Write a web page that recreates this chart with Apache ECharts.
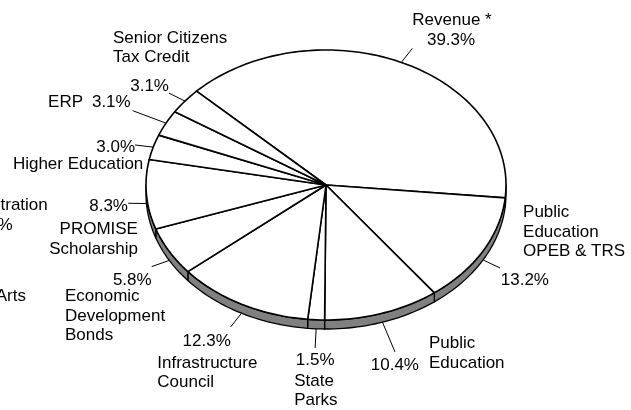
<!DOCTYPE html>
<html><head><meta charset="utf-8">
<script src="https://cdn.jsdelivr.net/npm/echarts@6/dist/echarts.min.js"></script>
<style>html,body{margin:0;padding:0;background:#fff}#c{width:631px;height:410px}</style>
</head><body><div id="c"></div>
<script>
// ---- data ----
const categories = ['Revenue *', 'Public\nEducation\nOPEB & TRS', 'Public\nEducation', 'State\nParks',
  'Infrastructure\nCouncil', 'Economic\nDevelopment\nBonds', 'PROMISE\nScholarship',
  'Higher Education', 'ERP', 'Senior Citizens\nTax Credit'];
const shares = [39.3, 13.2, 10.4, 1.5, 12.3, 5.8, 8.3, 3.0, 3.1, 3.1];
const valueLabels = shares.map(v => v.toFixed(1) + '%');
// fragments of neighbouring labels cut off at the left edge of the picture
const clippedTexts = ['tration', '%', 'Arts'];

// ---- layout (not data) ----
const CX = 326, CY = 185, RX = 180, RY = 135, DEPTH = 9, START = -136;
const FONT = '17px "Liberation Sans", Arial, sans-serif';
// offsets relative to each slice's computed anchor point: leader end, value label, name label
const labelLayout = [
  {lead: [11, -14],      val: [49.7, -22.4, 'center'], name: [50.7, -41.7, 'center']},
  {lead: [17, 8],        val: [17.7, 20.7, 'left'],    name: [40, -27.8, 'left']},
  {lead: [12.5, 29.7],   val: [36.5, 43, 'right'],     name: [46.5, 31.3, 'left']},
  {lead: [-1, 19.2],     val: [-1, 31.2, 'center'],    name: [-22, 62, 'left']},
  {lead: [-10.9, 13.7],  val: [-34.9, 27.7, 'center'], name: [-84.3, 59.5, 'left']},
  {lead: [-17.6, 6.3],   val: [-17.6, 20.3, 'right'],  name: [-104.3, 55.5, 'left']},
  {lead: [-18.2, -0.3],  val: [-18.5, 2.9, 'right'],   name: [-8.5, 35.7, 'right']},
  {lead: [-18.2, -2.2],  val: [-18.2, 0.1, 'right'],   name: [-9.9, 16.8, 'right']},
  {lead: [-33.3, -12.5], val: [-35.3, -20.5, 'right'], name: [-83, -20.5, 'right']},
  {lead: [-16, -8],      val: [-16, -15, 'right'],     name: [-72, -53.5, 'left']}
];

const total = shares.reduce((a, b) => a + b, 0);
const bounds = [];
{ let a = START; for (const v of shares) { const b = a + v / total * 360; bounds.push([a, b]); a = b; } }
const rad = d => d * Math.PI / 180;
const pt = (d, dy) => [CX + RX * Math.cos(rad(d)), CY + RY * Math.sin(rad(d)) + (dy || 0)];
function arc(a0, a1, dy) {
  const n = Math.max(2, Math.ceil(Math.abs(a1 - a0) / 1.5));
  const out = [];
  for (let i = 0; i <= n; i++) out.push(pt(a0 + (a1 - a0) * i / n, dy));
  return out;
}

function renderItem(params, api) {
  const i = params.dataIndex;
  const [a0, a1] = bounds[i];
  const children = [];
  // visible side wall (front half: 0..180 deg)
  const s = Math.max(a0, 0), e = Math.min(a1, 180);
  if (e > s) {
    const pts = arc(s, e, 0).concat(arc(e, s, DEPTH));
    children.push({type: 'polygon', shape: {points: pts},
      style: {fill: '#808080', stroke: '#000', lineWidth: 1.3, lineJoin: 'round'}});
  }
  // top face
  children.push({type: 'polygon', shape: {points: [[CX, CY]].concat(arc(a0, a1, 0))},
    style: {fill: '#fff', stroke: '#000', lineWidth: 1.6, lineJoin: 'round'}});
  // label anchor on the rim
  const mid = (a0 + a1) / 2;
  const sn = Math.sin(rad(mid));
  const anc = pt(mid, sn > 0 ? DEPTH : 0);
  const L = labelLayout[i];
  children.push({type: 'polyline', shape: {points: [anc, [anc[0] + L.lead[0], anc[1] + L.lead[1]]]},
    style: {stroke: '#000', lineWidth: 1, fill: null}});
  children.push({type: 'text', style: {text: valueLabels[i], x: anc[0] + L.val[0], y: anc[1] + L.val[1],
    align: L.val[2], verticalAlign: 'middle', font: FONT, fill: '#000'}});
  children.push({type: 'text', style: {text: categories[i], x: anc[0] + L.name[0], y: anc[1] + L.name[1],
    align: L.name[2], verticalAlign: 'middle', font: FONT, lineHeight: 19.5, fill: '#000'}});
  return {type: 'group', children};
}

const chart = echarts.init(document.getElementById('c'), null, {renderer: 'canvas'});
chart.setOption({
  animation: false,
  backgroundColor: '#fff',
  graphic: [
    {type: 'text', style: {text: clippedTexts[0], x: 0.5, y: 205, align: 'left', verticalAlign: 'middle', font: FONT, fill: '#000'}},
    {type: 'text', style: {text: clippedTexts[1], x: 12.7, y: 225, align: 'right', verticalAlign: 'middle', font: FONT, fill: '#000'}},
    {type: 'text', style: {text: clippedTexts[2], x: 26, y: 296.7, align: 'right', verticalAlign: 'middle', font: FONT, fill: '#000'}}
  ],
  series: [{
    type: 'custom',
    coordinateSystem: 'none',
    renderItem: renderItem,
    data: shares.map((v, i) => ({name: categories[i], value: v}))
  }]
});
</script>
</body></html>
